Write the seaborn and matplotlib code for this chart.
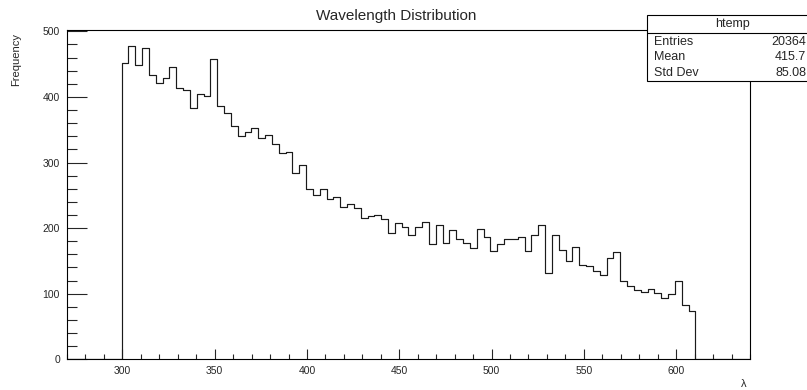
import numpy as np
import pandas as pd
import matplotlib
matplotlib.use("Agg")
import matplotlib.pyplot as plt
from matplotlib.patches import Rectangle
from matplotlib.ticker import MultipleLocator
import seaborn as sns

# ─────────────────────────────────────────────
# DATA (100 bins of 3.7 nm over 270-640)
# ─────────────────────────────────────────────
hist_lo = 270.0
bin_width = 3.7
counts = [
    0, 0, 0, 0, 0, 0, 0, 0,
    452, 478, 448, 475, 434, 421, 429, 446, 414, 410, 383, 404, 401, 458,
    386, 376, 356, 340, 347, 353, 337, 342, 328, 314, 316, 284, 296, 259,
    251, 259, 245, 247, 232, 236, 230, 215, 219, 220, 214, 192, 208, 202,
    189, 202, 209, 176, 205, 177, 197, 184, 178, 169, 198, 186, 165, 176,
    183, 184, 187, 165, 189, 205, 132, 190, 166, 150, 171, 143, 142, 134,
    128, 155, 164, 120, 111, 105, 103, 107, 101, 94, 100, 120, 83, 74,
    0, 0, 0, 0, 0, 0, 0, 0,
]
stats_labels = ["Entries", "Mean", "Std Dev"]
stats_values = ["20364", "415.7", "85.08"]

edges = [round(hist_lo + bin_width * i, 3) for i in range(len(counts) + 1)]
df = pd.DataFrame({"wl": [0.5 * (a + b) for a, b in zip(edges[:-1], edges[1:])],
                   "n": counts})

sns.set_style("white")
plt.rcParams["font.family"] = ["Liberation Sans", "DejaVu Sans"]

W, H = 807, 390
fig = plt.figure(figsize=(W / 100, H / 100), dpi=100)
ax_l, ax_r, ax_t, ax_b = 67, 750, 30, 359.3
ax = fig.add_axes([ax_l / W, 1 - ax_b / H, (ax_r - ax_l) / W, (ax_b - ax_t) / H])

sns.histplot(data=df, x="wl", weights="n", bins=edges, element="step", fill=False,
             color="#1a1a1a", linewidth=0.85, ax=ax)

ax.set_xlim(270, 640)
ax.set_ylim(0, 502)
ax.set_xticks(range(300, 601, 50))
ax.xaxis.set_minor_locator(MultipleLocator(10))
ax.yaxis.set_major_locator(MultipleLocator(100))
ax.yaxis.set_minor_locator(MultipleLocator(20))
ax.tick_params(axis="x", which="major", direction="in", length=7.2, width=0.8,
               labelsize=7.5, pad=5, bottom=True, top=False)
ax.tick_params(axis="x", which="minor", direction="in", length=3.6, width=0.8,
               bottom=True, top=False)
ax.tick_params(axis="y", which="major", direction="in", length=14.4, width=0.8,
               labelsize=7.5, pad=5, left=True, right=False)
ax.tick_params(axis="y", which="minor", direction="in", length=7.2, width=0.8,
               left=True, right=False)
for s in ax.spines.values():
    s.set_color("black")
    s.set_linewidth(0.8)
ax.set_xlabel("")
ax.set_ylabel("")

# axis titles, ROOT style (aligned to axis ends)
fig.text(747 / W, 1 - 384 / H, "λ", ha="right", va="center", fontsize=8)
fig.text(16 / W, 1 - 33 / H, "Frequency", ha="center", va="top", rotation=90, fontsize=8)
fig.text(396 / W, 1 - 16 / H, "Wavelength Distribution", ha="center", va="center", fontsize=11)

# stat box
bx_l, bx_t, bx_b, bx_r = 647, 15, 81, 830
fig.patches.append(Rectangle((bx_l / W, 1 - bx_b / H), (bx_r - bx_l) / W, (bx_b - bx_t) / H,
                             transform=fig.transFigure, facecolor="white",
                             edgecolor="black", linewidth=0.8, zorder=5))
fig.add_artist(plt.Line2D([bx_l / W, bx_r / W], [1 - 33 / H, 1 - 33 / H],
                          transform=fig.transFigure, color="black", linewidth=0.8, zorder=6))
fig.text(733 / W, 1 - 24 / H, "htemp", ha="center", va="center", fontsize=9, zorder=7)
for i, (lab, val) in enumerate(zip(stats_labels, stats_values)):
    y = 1 - (42 + 15.5 * i) / H
    fig.text(654 / W, y, lab, ha="left", va="center", fontsize=9, zorder=7)
    fig.text(806 / W, y, val, ha="right", va="center", fontsize=9, zorder=7)

fig.savefig("out.png", dpi=100, facecolor="white")
plt.close(fig)
